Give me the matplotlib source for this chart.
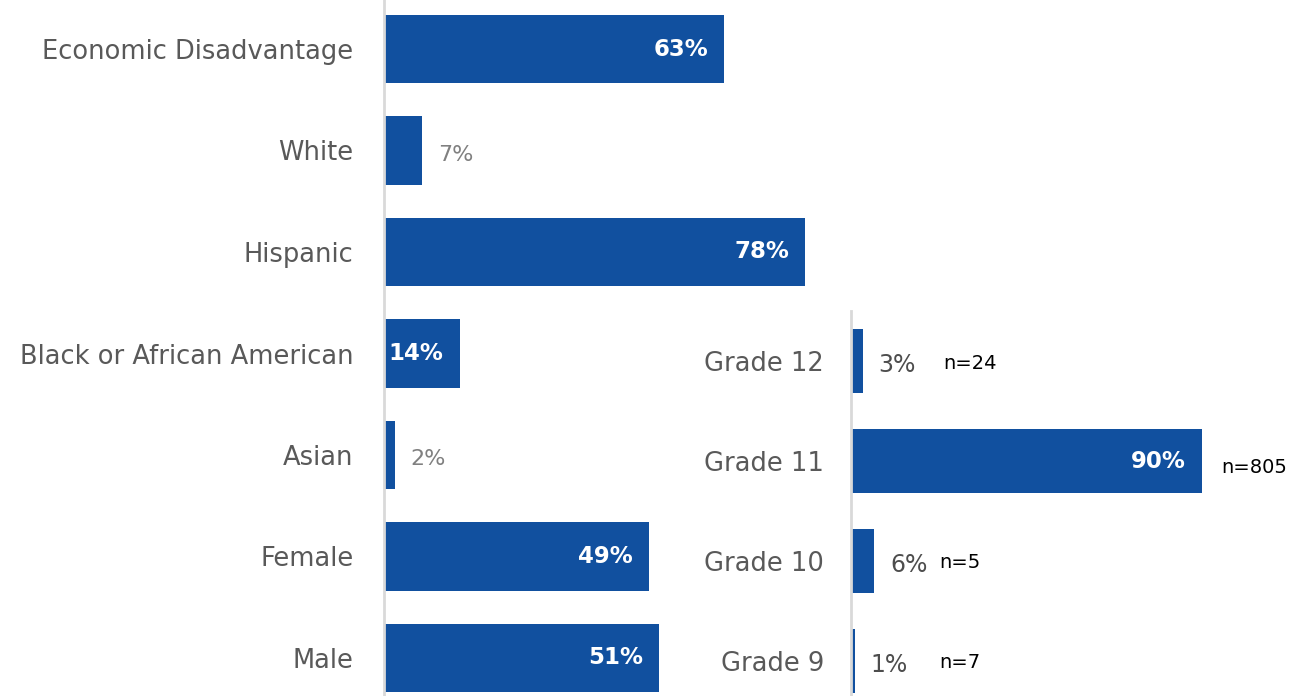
import matplotlib.pyplot as plt

plt.rcParams['font.family'] = ['DejaVu Sans']

# left panel: demographics
groups = ['Economic Disadvantage', 'White', 'Hispanic', 'Black or African American',
          'Asian', 'Female', 'Male']
group_pct = [63, 7, 78, 14, 2, 49, 51]

# right panel: grades
grades = ['Grade 12', 'Grade 11', 'Grade 10', 'Grade 9']
grade_pct = [3, 90, 6, 1]
grade_n = ['n=24', 'n=805', 'n=5', 'n=7']
n_xpos = [23.6, 95, 22.6, 22.6]
n_yoff = [0.02, 0.06, 0.01, 0.01]

BLUE = '#11509f'
TICK = '#595959'
W, H = 1308, 696

fig = plt.figure(figsize=(W / 100, H / 100), dpi=100)


def panel(rect, labels, vals, height, inside_min, px_per, tpad, out_color, out_size):
    ax = fig.add_axes(rect)
    y = list(range(len(labels)))
    ax.barh(y, vals, height=height, color=BLUE)
    ax.set_xlim(0, 100)
    ax.set_ylim(len(labels) - 0.5, -0.5)
    ax.set_yticks(y)
    ax.set_yticklabels(labels, fontsize=18.5, color=TICK)
    ax.tick_params(axis='y', length=0, pad=tpad)
    ax.set_xticks([])
    for s in ['top', 'right', 'bottom']:
        ax.spines[s].set_visible(False)
    ax.spines['left'].set_color('#d9d9d9')
    ax.spines['left'].set_linewidth(2)
    pad = 16 / px_per
    for yi, v in zip(y, vals):
        if v >= inside_min:
            ax.text(v - pad, yi, f'{v}%', ha='right', va='center', color='white',
                    fontsize=16.5, fontweight='bold')
        else:
            ax.text(v + pad, yi + 0.04, f'{v}%', ha='left', va='center', color=out_color,
                    fontsize=out_size)
    return ax


# left axes: 5.4 px per percent, 101.5 px row pitch
lh = 7 * 101.5
panel([384 / W, (H - 708.75) / H, 540 / W, lh / H], groups, group_pct, 0.67, 10, 5.4, 22,
      '#808080', 16)

# right axes: 3.9 px per percent, 100 px row pitch
ax2 = panel([851 / W, (H - 711) / H, 390 / W, 400 / H], grades, grade_pct, 0.64, 10, 3.9, 19.5,
            '#4d4d4d', 17)
for yi, (t, xp, dy) in enumerate(zip(grade_n, n_xpos, n_yoff)):
    ax2.text(xp, yi + dy, t, ha='left', va='center', color='black', fontsize=14)

fig.savefig('out.png', dpi=100)
